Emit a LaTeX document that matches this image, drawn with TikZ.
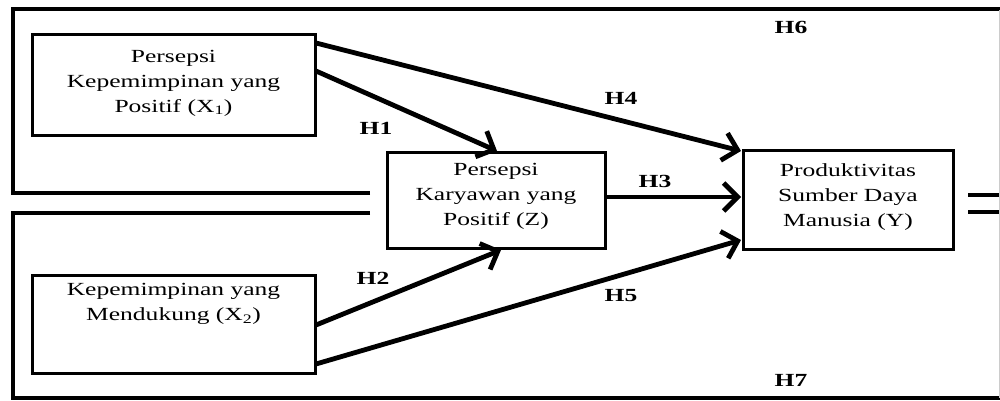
\documentclass[tikz,border=0pt]{standalone}
\usepackage{fontspec}
\setmainfont{Liberation Serif}[FakeStretch=1.38]
\usetikzlibrary{arrows.meta}
\begin{document}
\begin{tikzpicture}[x=1pt,y=-1pt,
  box/.style={draw,line width=3pt,inner sep=0pt},
  boxtext/.style={align=center,font=\fontsize{18.5}{25}\selectfont},
  conn/.style={line width=4.8pt,-{Straight Barb[length=14pt,width=28pt,line width=4.8pt]}},
  frame/.style={line width=4.5pt,line cap=butt,line join=miter},
  hlab/.style={font=\fontsize{18.5}{20}\selectfont\bfseries}]
\useasboundingbox (0,0) rectangle (1000,401);
% outer frames
\draw[frame] (370,193) -- (13,193) -- (13,9) -- (1000,9);
\draw[frame] (968,195) -- (1000,195);
\draw[frame] (968,212) -- (1000,212);
\draw[frame] (370,213) -- (13,213) -- (13,398) -- (1000,398);
\draw[gray!40,line width=1pt] (999,10) -- (999,398);
% boxes
\node[box,minimum width=283pt,minimum height=100pt] (x1) at (173.5,85) {};
\node[boxtext] (x1t) at (173.5,83) {Persepsi\\Kepemimpinan yang\\Positif (X\textsubscript{1})};
\node[box,minimum width=283pt,minimum height=98pt] (x2) at (173.5,324) {};
\node[boxtext,anchor=north] (x2t) at (173.5,280) {Kepemimpinan yang\\Mendukung (X\textsubscript{2})};
\node[box,minimum width=218pt,minimum height=96pt] (z) at (496,200) {};
\node[boxtext] (zt) at (496,196) {Persepsi\\Karyawan yang\\Positif (Z)};
\node[box,minimum width=210pt,minimum height=99pt] (y) at (848,199.5) {};
\node[boxtext] (yt) at (848,197) {Produktivitas\\Sumber Daya\\Manusia (Y)};
% connectors
\coordinate (x1a) at (316,43);
\coordinate (x1b) at (316,71);
\coordinate (x2a) at (316,325);
\coordinate (x2b) at (316,364);
\coordinate (zin1) at (497,151);
\coordinate (zin2) at (501,250);
\coordinate (ya) at (741,151);
\coordinate (yb) at (741,197);
\coordinate (yc) at (741,240);
\draw[conn] (x1b) -- (zin1);
\draw[conn] (x1a) -- (ya);
\draw[conn] (z.east |- yb) -- (yb);
\draw[conn] (x2a) -- (zin2);
\draw[conn] (x2b) -- (yc);
% labels
\node[hlab] (h1) at (376,128) {H1};
\node[hlab] (h2) at (373,278) {H2};
\node[hlab] (h3) at (655,181) {H3};
\node[hlab] (h4) at (621,98) {H4};
\node[hlab] (h5) at (621,296) {H5};
\node[hlab] (h6) at (791,27) {H6};
\node[hlab] (h7) at (791,380) {H7};
\end{tikzpicture}
\end{document}
